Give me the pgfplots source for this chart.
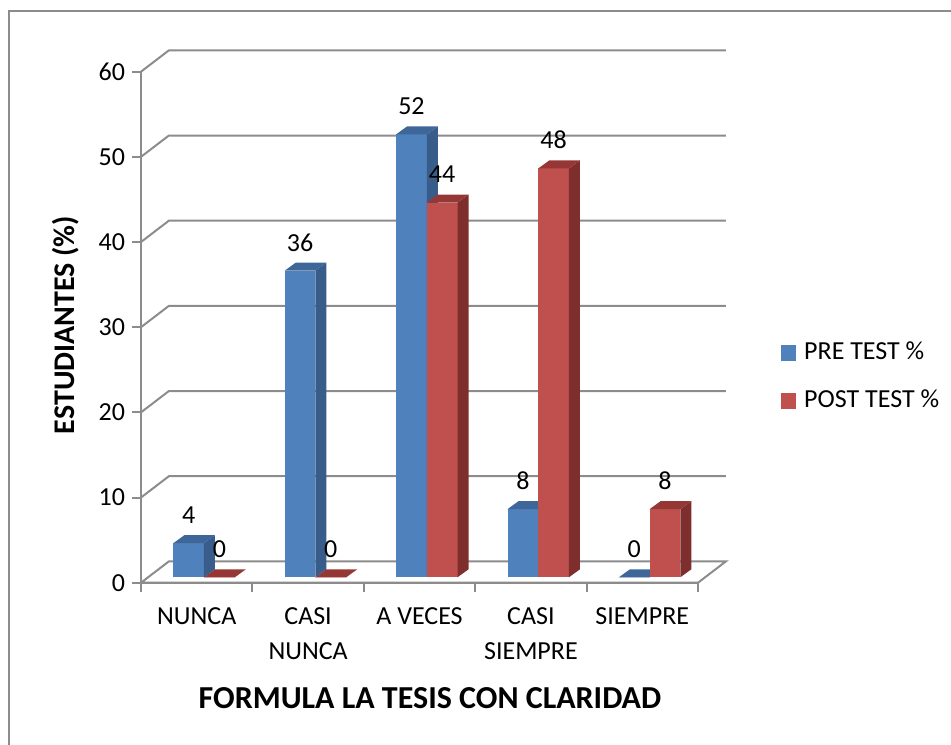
\documentclass[border=0pt]{standalone}
\usepackage{fontspec}
\setmainfont{Carlito}
\usepackage{pgfplots}
\pgfplotsset{compat=1.18}
\definecolor{bfront}{HTML}{4F81BD}
\definecolor{bside}{HTML}{385D8A}
\definecolor{btop}{HTML}{3E6698}
\definecolor{rfront}{HTML}{C0504D}
\definecolor{rside}{HTML}{7E2F2D}
\definecolor{rtop}{HTML}{953735}
\definecolor{gridg}{HTML}{8C8C8C}
\newcommand{\lbl}{\fontsize{13}{17.5}\selectfont}
% #1 left x (front plane), #2 value, #3 front, #4 side, #5 top
\newcommand{\tdbar}[5]{%
 \pgfmathsetmacro{\bxa}{#1+0.0655}%
 \pgfmathsetmacro{\bxb}{#1+0.0655+0.2756}%
 \pgfmathsetmacro{\bxc}{#1+0.0655+0.2756+0.0987}%
 \pgfmathsetmacro{\bxd}{#1+0.0655+0.0987}%
 \pgfmathsetmacro{\bya}{0.634}%
 \pgfmathsetmacro{\byb}{#2+0.634}%
 \pgfmathsetmacro{\byc}{0.634+0.94}%
 \pgfmathsetmacro{\byd}{#2+0.634+0.94}%
 \addplot[fill=#3, draw=none, forget plot] coordinates {(\bxa,\bya) (\bxb,\bya) (\bxb,\byb) (\bxa,\byb)};
 \addplot[fill=#4, draw=none, forget plot] coordinates {(\bxb,\bya) (\bxc,\byc) (\bxc,\byd) (\bxb,\byb)};
 \addplot[fill=#5, draw=none, forget plot] coordinates {(\bxa,\byb) (\bxb,\byb) (\bxc,\byd) (\bxd,\byd)};
}
\begin{document}
\begin{tikzpicture}
\useasboundingbox (-70.5pt,-80.65pt) rectangle (405pt,291.35pt);
\draw[gridg, line width=1pt] (-66pt,-90pt) -- (-66pt,285.85pt) -- (420pt,285.85pt);
\begin{axis}[
  at={(0,0)}, anchor=origin,
  x={(55.7pt,0)}, y={(0,4.2585pt)},
  xmin=0, xmax=5, ymin=0, ymax=60,
  clip=false,
  axis x line*=bottom, axis y line*=left,
  axis line style={draw=gridg, line width=1pt, -},
  tick style={draw=gridg, line width=1pt},
  tick align=outside,
  major tick length=4.5pt,
  /pgf/number format/assume math mode=true,
  ytick={0,10,...,60},
  yticklabel style={font=\lbl},
  xtick={0,1,2,3,4,5},
  xticklabels={},
  extra x ticks={0.5,1.5,2.5,3.5,4.5},
  extra x tick labels={NUNCA,{CASI\\NUNCA},A VECES,{CASI\\SIEMPRE},SIEMPRE},
  extra x tick style={major tick length=0pt, xticklabel style={align=center, anchor=north, font=\lbl, yshift=-9pt}},
  xlabel={FORMULA LA TESIS CON CLARIDAD},
  xlabel style={at={(axis cs:2.594,0)}, anchor=center, yshift=-57.65pt, font=\fontsize{16}{19}\selectfont\bfseries},
  ylabel={ESTUDIANTES (\%)},
  ylabel style={at={(axis cs:-0.673,30.26)}, anchor=center, font=\fontsize{15}{18}\selectfont\bfseries},
  legend style={draw=none, fill=none, at={(axis cs:5.745,24.18)}, anchor=west, inner sep=0pt, font=\lbl,
    row sep=12.75pt, column sep=4pt, nodes={inner sep=0pt, text height=9pt, text depth=2.5pt}},
  legend cell align=left,
]
\addlegendimage{legend image code/.code={\fill[bfront] (0pt,-3.75pt) rectangle (7pt,3.75pt);}}
\addlegendentry{PRE TEST \%}
\addlegendimage{legend image code/.code={\fill[rfront] (0pt,-3.75pt) rectangle (7pt,3.75pt);}}
\addlegendentry{POST TEST \%}
% floor
\addplot[fill=white, draw=gridg, line width=1pt, forget plot] coordinates {(0,0) (5,0) (5.25,2.5) (0.25,2.5) (0,0)};
% walls
\addplot[gridg, line width=1pt, forget plot] coordinates {(0,10) (0.25,12.5) (5.25,12.5)};
\addplot[gridg, line width=1pt, forget plot] coordinates {(0,20) (0.25,22.5) (5.25,22.5)};
\addplot[gridg, line width=1pt, forget plot] coordinates {(0,30) (0.25,32.5) (5.25,32.5)};
\addplot[gridg, line width=1pt, forget plot] coordinates {(0,40) (0.25,42.5) (5.25,42.5)};
\addplot[gridg, line width=1pt, forget plot] coordinates {(0,50) (0.25,52.5) (5.25,52.5)};
\addplot[gridg, line width=1pt, forget plot] coordinates {(0,60) (0.25,62.5) (5.25,62.5)};
% bars: PRE TEST (blue), POST TEST (red)
\tdbar{0.2244}{4}{bfront}{bside}{btop}
\tdbar{0.5}{0}{rfront}{rside}{rtop}
\tdbar{1.2244}{36}{bfront}{bside}{btop}
\tdbar{1.5}{0}{rfront}{rside}{rtop}
\tdbar{2.2244}{52}{bfront}{bside}{btop}
\tdbar{2.5}{44}{rfront}{rside}{rtop}
\tdbar{3.2244}{8}{bfront}{bside}{btop}
\tdbar{3.5}{48}{rfront}{rside}{rtop}
\tdbar{4.2244}{0}{bfront}{bside}{btop}
\tdbar{4.5}{8}{rfront}{rside}{rtop}
% value labels
\addplot[draw=none, forget plot, nodes near coords, nodes near coords style={anchor=base, yshift=12.5pt, font=\lbl, inner sep=0pt}]
  coordinates {(0.4277,4) (1.4277,36) (2.4277,52) (3.4277,8) (4.4277,0)};
\addplot[draw=none, forget plot, nodes near coords, nodes near coords style={anchor=base, yshift=12.5pt, font=\lbl, inner sep=0pt}]
  coordinates {(0.7033,0) (1.7033,0) (2.7033,44) (3.7033,48) (4.7033,8)};
\end{axis}
\end{tikzpicture}
\end{document}
